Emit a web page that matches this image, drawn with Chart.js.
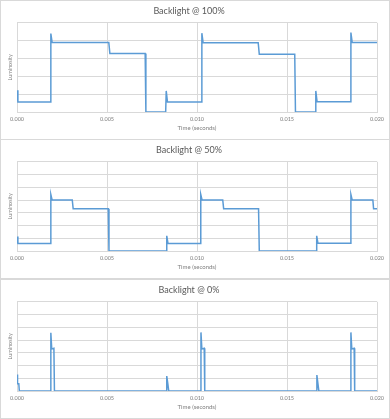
<!DOCTYPE html>
<html lang="en">
<head>
  <meta charset="UTF-8">
  <title>Backlight flicker</title>
  <script src="https://cdn.jsdelivr.net/npm/chart.js"></script>
  <style>
    body {
      margin: 0;
      padding: 0;
      background: #fff;
      font-family: Lato, "Liberation Sans", Arial, sans-serif;
    }
    .panel {
      position: absolute;
      left: 0;
      width: 390px;
      height: 140px;
      box-sizing: border-box;
      border: 1px solid #d9d9d9;
      background: #fff;
    }
    canvas {
      display: block;
    }
  </style>
</head>
<body>
  <div class="panel" style="top:0px"><canvas id="c100" width="388" height="138"></canvas></div>
  <div class="panel" style="top:139px"><canvas id="c50" width="388" height="138"></canvas></div>
  <div class="panel" style="top:279px"><canvas id="c0" width="388" height="138"></canvas></div>

  <script>
    // x ticks (seconds)
    var xTicks = [0.000, 0.005, 0.010, 0.015, 0.020];

    // Backlight @ 100% (y in grid units, 0..5)
    var t100 = [0, 0.00005, 0.00185, 0.00188, 0.00195, 0.0051, 0.00516, 0.00712, 0.00716,
                0.00826, 0.00829, 0.00836, 0.01024, 0.01027, 0.01034, 0.0134, 0.01346,
                0.01543, 0.01547, 0.01657, 0.0166, 0.01667, 0.01852, 0.01855, 0.01862, 0.02];
    var v100 = [1.22, 0.56, 0.56, 4.4, 3.9, 3.9, 3.28, 3.28, 0,
                0, 1.18, 0.56, 0.56, 4.42, 3.88, 3.88, 3.24,
                3.24, 0, 0, 1.18, 0.58, 0.58, 4.45, 3.9, 3.9];

    // Backlight @ 50% (0..7)
    var t50 = [0, 0.00005, 0.00185, 0.00188, 0.00195, 0.00307, 0.00312, 0.00507, 0.00511,
               0.00829, 0.00832, 0.00839, 0.01018, 0.01021, 0.01028, 0.01143, 0.01148,
               0.01342, 0.01346, 0.01662, 0.01665, 0.01672, 0.01852, 0.01855, 0.01862,
               0.01977, 0.01981, 0.02];
    var v50 = [1.13, 0.58, 0.58, 4.43, 4.01, 4.01, 3.32, 3.32, 0,
               0, 1.19, 0.58, 0.58, 4.43, 4.01, 4.01, 3.32,
               3.32, 0, 0, 1.19, 0.6, 0.6, 4.43, 4.01,
               4.01, 3.32, 3.32];

    // Backlight @ 0% (0..7)
    var t0 = [0, 0.00003, 0.0001, 0.00013, 0.00185, 0.00188, 0.00193, 0.00205, 0.00208,
              0.00829, 0.00832, 0.00838, 0.00843, 0.01019, 0.01022, 0.01027, 0.0104, 0.01043,
              0.01663, 0.01666, 0.01672, 0.01677, 0.01852, 0.01855, 0.0186, 0.01873, 0.01876, 0.02];
    var v0 = [1.3, 0.57, 0.57, 0, 0, 4.57, 3.3, 3.35, 0,
              0, 1.17, 0.57, 0, 0, 4.6, 3.3, 3.35, 0,
              0, 1.25, 0.57, 0, 0, 4.6, 3.3, 3.35, 0, 0];

    var gridColor = '#d9d9d9';

    function makeChart(id, title, times, values, yMax) {
      var pts = times.map(function (t, i) { return { x: t, y: values[i] }; });
      return new Chart(document.getElementById(id), {
        type: 'scatter',
        data: {
          datasets: [{
            data: pts,
            showLine: true,
            borderColor: '#5b9bd5',
            borderWidth: 1.5,
            pointRadius: 0,
            tension: 0
          }]
        },
        options: {
          responsive: false,
          animation: false,
          events: [],
          layout: { padding: { top: 1, left: 0, right: 12, bottom: 0 } },
          plugins: {
            legend: { display: false },
            tooltip: { enabled: false },
            title: {
              display: true,
              text: title,
              color: '#595959',
              font: { family: 'Lato', size: 9, weight: 'normal' },
              padding: { top: 4, bottom: 6 }
            }
          },
          scales: {
            x: {
              type: 'linear',
              min: 0,
              max: 0.02,
              afterBuildTicks: function (scale) {
                scale.ticks = xTicks.map(function (v) { return { value: v }; });
              },
              afterFit: function (scale) { scale.height = 27; },
              grid: { color: gridColor, drawTicks: false },
              border: { color: gridColor },
              ticks: {
                color: '#7f7f7f',
                font: { family: 'Lato', size: 5.5 },
                padding: 4,
                maxRotation: 0,
                callback: function (v) { return v.toFixed(3); }
              },
              title: {
                display: true,
                text: 'Time (seconds)',
                color: '#7f7f7f',
                font: { family: 'Lato', size: 6 },
                padding: { top: 0, bottom: 7 }
              }
            },
            y: {
              min: 0,
              max: yMax,
              afterFit: function (scale) { scale.width = 16; },
              grid: { color: gridColor, drawTicks: false },
              border: { color: gridColor },
              ticks: { display: false, stepSize: 1 },
              title: {
                display: true,
                text: 'Luminosity',
                color: '#7f7f7f',
                font: { family: 'Lato', size: 5.5 },
                padding: { top: 6, bottom: 0 }
              }
            }
          }
        }
      });
    }

    makeChart('c100', 'Backlight @ 100%', t100, v100, 5);
    makeChart('c50', 'Backlight @ 50%', t50, v50, 7);
    makeChart('c0', 'Backlight @ 0%', t0, v0, 7);
  </script>
</body>
</html>
